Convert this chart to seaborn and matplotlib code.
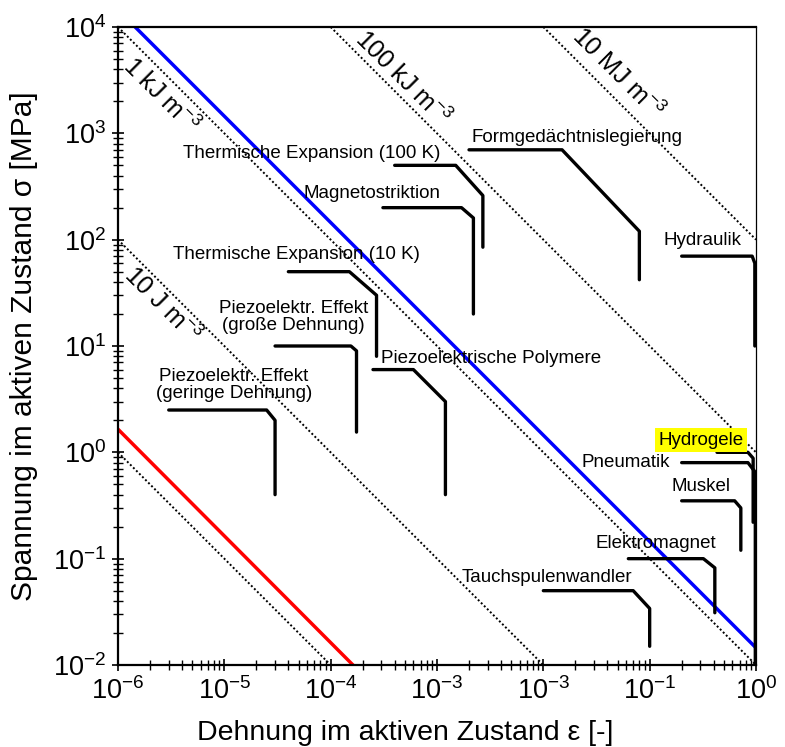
import matplotlib
matplotlib.use("Agg")
import matplotlib.pyplot as plt
import matplotlib.ticker as mticker
import pandas as pd
import seaborn as sns

sns.set_style("white")
plt.rcParams['font.family'] = ['Liberation Sans', 'DejaVu Sans']
plt.rcParams['mathtext.fontset'] = 'custom'
plt.rcParams['mathtext.rm'] = 'Liberation Sans'
plt.rcParams['mathtext.it'] = 'Liberation Sans:italic'
plt.rcParams['mathtext.bf'] = 'Liberation Sans:bold'
plt.rcParams['text.color'] = 'black'
plt.rcParams['axes.labelcolor'] = 'black'
plt.rcParams['xtick.color'] = 'black'
plt.rcParams['ytick.color'] = 'black'

# ---------------- data ----------------
actuators = ["Thermische Expansion (100 K)", "Magnetostriktion", "Formgedächtnislegierung",
             "Hydraulik", "Thermische Expansion (10 K)", "Piezoelektr. Effekt\n(große Dehnung)",
             "Piezoelektr. Effekt\n(geringe Dehnung)", "Piezoelektrische Polymere", "Hydrogele",
             "Pneumatik", "Muskel", "Elektromagnet", "Tauchspulenwandler"]
# polyline: (start of plateau, end of plateau, corner, corner) strain / stress
act_strain = [
    [4.0e-4, 1.5e-3, 2.7e-3, 2.7e-3],
    [3.1e-4, 1.7e-3, 2.2e-3, 2.2e-3],
    [2.0e-3, 1.5e-2, 8.0e-2, 8.0e-2],
    [0.20, 0.92, 0.975, 0.975],
    [4.0e-5, 1.5e-4, 2.7e-4, 2.7e-4],
    [3.0e-5, 1.55e-4, 1.75e-4, 1.75e-4],
    [3.0e-6, 2.5e-5, 3.0e-5, 3.0e-5],
    [2.5e-4, 6.0e-4, 1.2e-3, 1.2e-3],
    [0.43, 0.84, 0.94, 0.94],
    [0.20, 0.84, 0.985, 0.985],
    [0.20, 0.63, 0.72, 0.72],
    [0.063, 0.32, 0.41, 0.41],
    [0.010, 0.07, 0.10, 0.10],
]
act_stress = [
    [500, 500, 260, 85],
    [200, 200, 160, 20],
    [700, 700, 120, 42],
    [70, 70, 60, 10],
    [50, 50, 30, 8],
    [10, 10, 9, 1.55],
    [2.5, 2.5, 2.0, 0.4],
    [6, 6, 3, 0.4],
    [1.0, 1.0, 0.88, 0.22],
    [0.8, 0.8, 0.65, 0.01],
    [0.35, 0.35, 0.30, 0.12],
    [0.10, 0.10, 0.082, 0.031],
    [0.05, 0.05, 0.034, 0.015],
]
# label anchor (strain, stress) and alignment
label_strain = [4.1e-6, 5.6e-5, 2.1e-3, 0.134, 3.3e-6, 4.5e-5, 1.23e-5, 3.0e-4, 0.12, 0.023, 0.162, 0.031, 1.72e-3]
label_stress = [653, 269, 904, 99, 72, 18.7, 4.3, 7.55, 1.3, 0.81, 0.48, 0.14, 0.067]
label_ha = ["left", "left", "left", "left", "left", "center", "center", "left", "left",
            "left", "left", "left", "left"]

# energy density iso-lines (dotted)
iso_strain = [[1e-2, 1.0], [1e-4, 1.0], [1e-6, 1.0], [1e-6, 1e-2], [1e-6, 1e-4]]
iso_stress = [[1e4, 100.0], [1e4, 1.0], [1e4, 1e-2], [100.0, 1e-2], [1.0, 1e-2]]
iso_labels = [r"10 MJ m$^{-3}$", r"100 kJ m$^{-3}$", r"1 kJ m$^{-3}$", r"10 J m$^{-3}$"]
iso_label_strain = [0.05, 4.8e-4, 2.5e-6, 2.6e-6]
iso_label_stress = [3700, 3300, 2290, 24.3]

blue_strain = [1.45e-6, 1.0]
blue_stress = [1e4, 0.0145]
red_strain = [1e-6, 1.62e-4]
red_stress = [1.65, 1e-2]

xticks = [1e-6, 1e-5, 1e-4, 1e-3, 1e-2, 1e-1, 1.0]
xticklabels = [r"$10^{-6}$", r"$10^{-5}$", r"$10^{-4}$", r"$10^{-3}$", r"$10^{-3}$", r"$10^{-1}$", r"$10^{0}$"]
yticks = [1e-2, 1e-1, 1.0, 10.0, 100.0, 1e3, 1e4]
yticklabels = [r"$10^{-2}$", r"$10^{-1}$", r"$10^{0}$", r"$10^{1}$", r"$10^{2}$", r"$10^{3}$", r"$10^{4}$"]

# ---------------- figure ----------------
fig = plt.figure(figsize=(7.85, 7.47), dpi=100)
ax = fig.add_axes([118 / 785, 1 - 665 / 747, 638 / 785, 638 / 747])
ax.set_xscale("log")
ax.set_yscale("log")

iso_df = pd.DataFrame([
    {"eps": e, "sig": s, "line": i, "pt": j}
    for i, (es, ss) in enumerate(zip(iso_strain, iso_stress))
    for j, (e, s) in enumerate(zip(es, ss))
])
sns.lineplot(data=iso_df, x="eps", y="sig", units="line", estimator=None, sort=False,
             color="black", lw=1.4, linestyle=(0, (1, 1.2)), ax=ax, legend=False)

sns.lineplot(x=blue_strain, y=blue_stress, color="#0000ff", lw=2.5, ax=ax, legend=False)
sns.lineplot(x=red_strain, y=red_stress, color="#ff0000", lw=2.5, ax=ax, legend=False)

act_df = pd.DataFrame([
    {"eps": e, "sig": s, "act": i, "pt": j}
    for i, (es, ss) in enumerate(zip(act_strain, act_stress))
    for j, (e, s) in enumerate(zip(es, ss))
])
sns.lineplot(data=act_df, x="eps", y="sig", units="act", estimator=None, sort=False,
             color="black", lw=2.4, ax=ax, legend=False)

for name, lx, ly, ha in zip(actuators, label_strain, label_stress, label_ha):
    kw = {}
    if name == "Hydrogele":
        kw["bbox"] = dict(facecolor="#ffff00", edgecolor="none", pad=2.5)
    ax.text(lx, ly, name, ha=ha, va="center", fontsize=13.5, multialignment="center",
            linespacing=1.05, color="black", **kw)

for txt, lx, ly in zip(iso_labels, iso_label_strain, iso_label_stress):
    ax.text(lx, ly, txt, ha="center", va="center", rotation=-45, rotation_mode="anchor",
            fontsize=18, color="black")

ax.set_xlim(1e-6, 1.0)
ax.set_ylim(1e-2, 1e4)
ax.set_xticks(xticks)
ax.set_xticklabels(xticklabels)
ax.set_yticks(yticks)
ax.set_yticklabels(yticklabels)
ax.xaxis.set_minor_locator(mticker.LogLocator(base=10, subs=range(2, 10), numticks=20))
ax.yaxis.set_minor_locator(mticker.LogLocator(base=10, subs=range(2, 10), numticks=20))
ax.xaxis.set_minor_formatter(mticker.NullFormatter())
ax.yaxis.set_minor_formatter(mticker.NullFormatter())
ax.tick_params(which="major", direction="inout", length=9, width=1.2, labelsize=19.5,
               bottom=True, left=True, top=False, right=False, pad=4, colors="black")
ax.tick_params(which="minor", direction="inout", length=7, width=1.0,
               bottom=True, left=True, top=False, right=False, colors="black")

for side in ["left", "bottom", "top"]:
    ax.spines[side].set_linewidth(1.6)
    ax.spines[side].set_color("black")
ax.spines["right"].set_linewidth(0.9)
ax.spines["right"].set_color("black")

ax.set_xlabel("Dehnung im aktiven Zustand ε [-]", fontsize=20.5, color="black")
ax.set_ylabel("Spannung im aktiven Zustand σ [MPa]", fontsize=21.5, color="black")
ax.xaxis.set_label_coords(0.45, -0.107)
ax.xaxis.label.set_va("center")
ax.yaxis.set_label_coords(-0.148, 0.5)
ax.yaxis.label.set_va("center")

fig.savefig("out.png", dpi=100)
